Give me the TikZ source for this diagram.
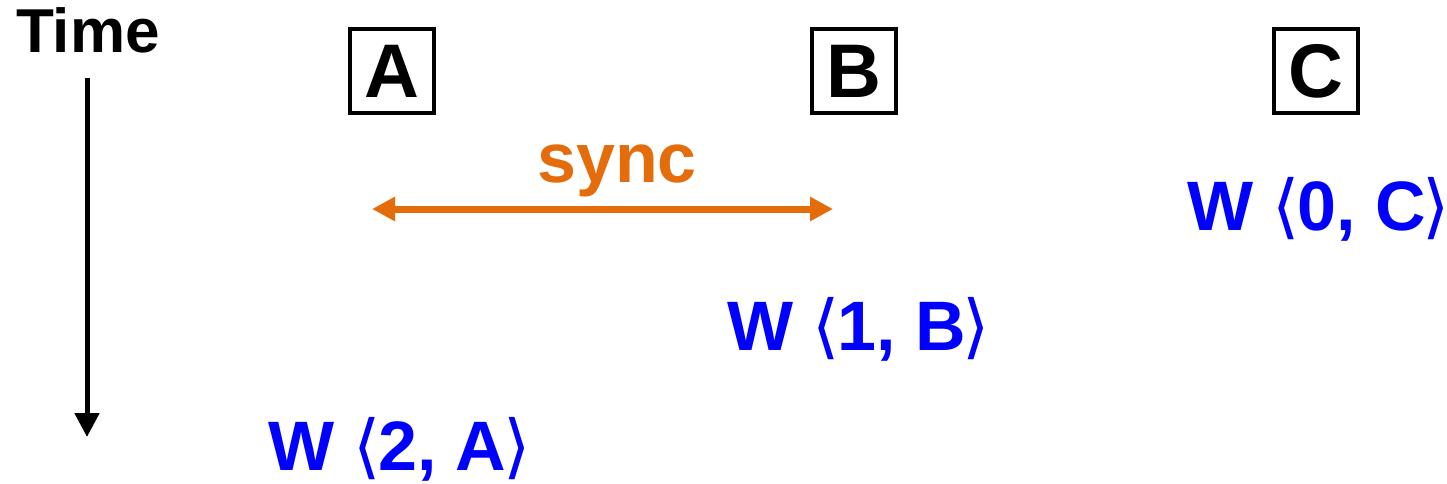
\documentclass[tikz,border=0pt]{standalone}
\usepackage{fontspec}
\setmainfont{Liberation Sans}
\newfontfamily\djv{DejaVu Sans}
\usetikzlibrary{arrows.meta}
\definecolor{syncorange}{RGB}{228,108,10}
\definecolor{wblue}{RGB}{0,0,255}
\newcommand{\lab}{{\djv\mdseries ⟨}\kern-1.5pt}
\newcommand{\rab}{\kern-1.5pt{\djv\mdseries ⟩}}
\begin{document}
\begin{tikzpicture}[x=0.5pt,y=-0.5pt,
  proc/.style={draw,line width=2pt,minimum size=42pt,inner sep=0pt,font=\fontsize{38}{40}\selectfont\bfseries},
  wlab/.style={anchor=base west,inner sep=0pt,text=wblue,font=\fontsize{35}{40}\selectfont\bfseries},
  timearrow/.style={line width=2.5pt,-{Triangle[length=12pt,width=12pt]}},
  syncarrow/.style={line width=3.5pt,syncorange,{Triangle[length=11.5pt,width=11.5pt]}-{Triangle[length=11.5pt,width=11.5pt]}}]
\useasboundingbox (0,0) rectangle (1447,483);
\node[anchor=base,inner sep=0pt,font=\fontsize{31}{36}\selectfont\bfseries] (time) at (88,52) {Time};
\coordinate (t0) at (87,78);
\coordinate (t1) at (87,437);
\draw[timearrow] (t0) -- (t1);
\node[proc] (A) at (392,71) {A};
\node[proc] (B) at (854,71) {B};
\node[proc] (C) at (1316,71) {C};
\node[anchor=base,inner sep=0pt,text=syncorange,font=\fontsize{35}{40}\selectfont\bfseries] (sync) at (617,182) {sync};
\coordinate (s0) at (372,209);
\coordinate (s1) at (833,209);
\draw[syncarrow] (s0) -- (s1);
\node[wlab] (wc) at (1187,230) {W \lab0, C\rab};
\node[wlab] (wb) at (727,350) {W \lab1, B\rab};
\node[wlab] (wa) at (268,470) {W \lab2, A\rab};
\end{tikzpicture}
\end{document}
